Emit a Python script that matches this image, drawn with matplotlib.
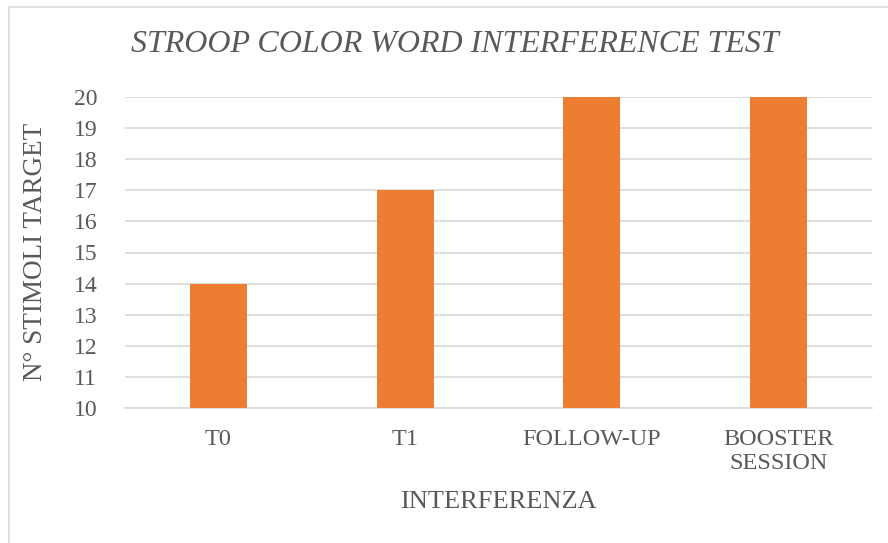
import matplotlib
matplotlib.use("Agg")
import matplotlib.pyplot as plt
from matplotlib.patches import Rectangle

categories = ["T0", "T1", "FOLLOW-UP", "BOOSTER\nSESSION"]
values = [14, 17, 20, 20]
yticks = list(range(10, 21))

plt.rcParams["font.family"] = ["Liberation Serif", "DejaVu Serif"]
text_color = "#595959"

fig = plt.figure(figsize=(8.88, 5.43), dpi=100)
ax = fig.add_axes([125 / 888, 1 - 408 / 543, (872 - 125) / 888, (408 - 97) / 543])

x = range(len(categories))
ax.bar(x, values, width=0.305, color="#ED7D31", zorder=3, bottom=0)
ax.set_ylim(10, 20)
ax.set_xlim(-0.5, len(categories) - 0.5)
ax.set_yticks(yticks)
ax.set_xticks(list(x))
ax.set_xticklabels(categories, linespacing=1.2, fontsize=17.5)
ax.tick_params(axis="both", length=0, colors=text_color)
ax.tick_params(axis="y", labelsize=17, pad=20)
ax.tick_params(axis="x", pad=15)
ax.grid(axis="y", color="#D9D9D9", linewidth=1.2, zorder=0)
for side in ["top", "right", "left"]:
    ax.spines[side].set_visible(False)
ax.spines["bottom"].set_color("#D9D9D9")
ax.spines["bottom"].set_linewidth(1.2)

fig.text(455 / 888, 1 - 45 / 543, "STROOP COLOR WORD INTERFERENCE TEST",
         ha="center", va="center", fontsize=23, style="italic", color=text_color)
fig.text(35 / 888, 1 - 252 / 543, "N° STIMOLI TARGET", rotation=90,
         ha="center", va="center", fontsize=19.5, color=text_color)
fig.text(498 / 888, 1 - 502 / 543, "INTERFERENZA",
         ha="center", va="center", fontsize=19, color=text_color)

fig.patches.append(Rectangle((9 / 888, -0.1), 1.2, 1 - 7 / 543 + 0.1,
                             transform=fig.transFigure, fill=False,
                             edgecolor="#D9D9D9", linewidth=1.2))

fig.savefig("out.png", dpi=100)
